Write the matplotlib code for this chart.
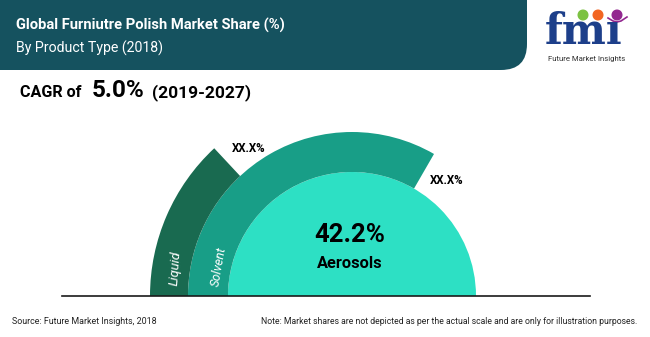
import matplotlib
matplotlib.use("Agg")
import matplotlib.pyplot as plt
from matplotlib.patches import Wedge, FancyBboxPatch

# chart data
segments = ["Aerosols", "Solvent", "Liquid"]
share_labels = ["42.2%", "XX.X%", "XX.X%"]
arc_span_deg = [180, 120, 47]  # illustrative arc lengths (not to scale)
seg_colors = ["#2de0c4", "#189e87", "#196a50"]

title = "Global Furniutre Polish Market Share (%)"
subtitle = "By Product Type (2018)"
cagr_value = "5.0%"
cagr_period = "(2019-2027)"
source_note = "Source: Future Market Insights, 2018"
scale_note = ("Note: Market shares are not depicted as per the actual scale "
              "and are only for illustration purposes.")

COND = ["Roboto", "DejaVu Sans"]
H = 337

fig = plt.figure(figsize=(6.5, 3.37), dpi=100)
ax = fig.add_axes([0, 0, 1, 1])
ax.set_xlim(0, 650)
ax.set_ylim(0, H)
ax.axis("off")

# header band, only bottom-right corner rounded
ax.add_patch(FancyBboxPatch((-40, H - 70), 567, 120,
                            boxstyle="round,pad=0,rounding_size=26",
                            fc="#15525f", ec="none"))
ax.text(16, H - 25, title, family=COND, weight="bold", size=10.6,
        color="white", va="center")
ax.text(16, H - 48, subtitle, family=COND, size=10.2, color="white",
        va="center")

# fmi logo
ax.text(545, H - 44, "fmı", family="DejaVu Serif", weight="bold", size=30,
        color="#1d3f8a", va="baseline")
ax.scatter([583, 598, 617], [H - 15, H - 15, H - 15], s=48,
           c=["#7cc242", "#f26522", "#92278f"], zorder=5)
ax.plot([608, 613, 617, 621, 627], [H - 18, H - 21, H - 22, H - 21, H - 17],
        color="#92278f", lw=1.2)
ax.text(587, H - 58.5, "Future Market Insights", family=COND, size=5.6,
        color="#333333", ha="center", va="center")

# CAGR line
ax.text(20, H - 97, "CAGR of", family=COND, weight="bold", size=11.6,
        color="black", va="baseline")
ax.text(92, H - 97, cagr_value, family=COND, weight="bold", size=17.5,
        color="black", va="baseline")
ax.text(152, H - 97, cagr_period, family=COND, weight="bold", size=12.5,
        color="black", va="baseline")

# radial arcs, all anchored on the left of the baseline
cx, cy = 352, H - 296
radii = [(0, 124), (124, 164), (164, 202)]
for span, (r0, r1), col in zip(arc_span_deg, radii, seg_colors):
    ax.add_patch(Wedge((cx, cy), r1, 180 - span, 180, width=r1 - r0,
                       fc=col, ec="none"))

ax.plot([62, 590], [cy, cy], color="#1a1a1a", lw=1.2, zorder=4)

ax.text(cx - 2, H - 235, share_labels[0], family=COND, weight="bold",
        size=18.5, ha="center", va="center")
ax.text(cx - 2, H - 263, segments[0], family=COND, weight="bold",
        size=11.8, ha="center", va="center")
ax.text(219, H - 267, segments[1], family=COND, style="italic", size=9,
        color="white", rotation=80, ha="center", va="center")
ax.text(175, H - 268, segments[2], family=COND, style="italic", size=9.5,
        color="white", rotation=86, ha="center", va="center")
ax.text(430, H - 181, share_labels[1], family=COND, weight="bold", size=8.3,
        va="center")
ax.text(232, H - 149, share_labels[2], family=COND, weight="bold", size=8.3,
        va="center")

# footer
ax.text(12, H - 322, source_note, family=COND, size=6.4, color="#222222",
        va="center")
ax.text(637, H - 322, scale_note, family=COND, size=6.2, color="#222222",
        ha="right", va="center")

fig.savefig("out.png", dpi=100)
